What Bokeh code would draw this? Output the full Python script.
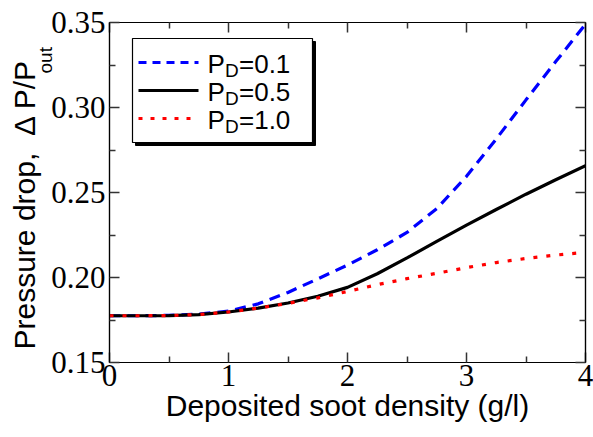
from bokeh.plotting import figure
from bokeh.models import LinearAxis, FixedTicker, Range1d, Label, Title
from bokeh.embed import file_html
from bokeh.resources import INLINE

# ---- data ----
soot_density = [0.0, 0.25, 0.5, 0.75, 1.0, 1.25, 1.5, 1.75, 2.0, 2.25, 2.5, 2.75, 3.0, 3.25, 3.5, 3.75, 4.0]
dp_pd01 = [0.1775, 0.1775, 0.1777, 0.1785, 0.1802, 0.1845, 0.1912, 0.1992, 0.2073, 0.2163, 0.2265, 0.2405, 0.2595, 0.2815, 0.3045, 0.3270, 0.3490]
dp_pd05 = [0.1775, 0.1775, 0.1776, 0.1782, 0.1797, 0.1820, 0.1850, 0.1890, 0.1942, 0.2022, 0.2115, 0.2212, 0.2308, 0.2400, 0.2490, 0.2575, 0.2657]
dp_pd10 = [0.1775, 0.1775, 0.1776, 0.1782, 0.1797, 0.1820, 0.1848, 0.1880, 0.1918, 0.1958, 0.1993, 0.2025, 0.2058, 0.2088, 0.2112, 0.2132, 0.2148]
pd_values = ["0.1", "0.5", "1.0"]

x_ticks = [0, 1, 2, 3, 4]
x_tick_labels = ["0", "1", "2", "3", "4"]
x_minor = [0.5, 1.5, 2.5, 3.5]
y_ticks = [0.15, 0.20, 0.25, 0.30, 0.35]
y_tick_labels = ["0.15", "0.20", "0.25", "0.30", "0.35"]
y_minor = [0.175, 0.225, 0.275, 0.325]

X0, X1, Y0, Y1 = 0.0, 4.0, 0.15, 0.35

# ---- layout (canvas pixels) ----
W, H = 593, 437
BL, BR, BT, BB = 109, 8, 22, 75
FW, FH = W - BL - BR, H - BT - BB


def px2x(px):
    return X0 + (px - BL) / FW * (X1 - X0)


def py2y(py):
    return Y1 - (py - BT) / FH * (Y1 - Y0)


p = figure(width=W, height=H, x_range=Range1d(X0, X1), y_range=Range1d(Y0, Y1),
           output_backend="svg", toolbar_location=None,
           min_border_left=BL, min_border_right=BR, min_border_top=BT, min_border_bottom=BB,
           background_fill_color="white", border_fill_color="white")
p.xgrid.visible = False
p.ygrid.visible = False
p.outline_line_color = "black"
p.outline_line_width = 1.2


def style_axis(ax, ticks, minor, labels, show_labels):
    ax.ticker = FixedTicker(ticks=ticks, minor_ticks=minor)
    ax.major_tick_in = 10
    ax.major_tick_out = 0
    ax.minor_tick_in = 6
    ax.minor_tick_out = 0
    ax.axis_line_color = "black"
    ax.axis_line_width = 1.2
    ax.major_tick_line_color = "#333333"
    ax.major_tick_line_width = 1.5
    ax.minor_tick_line_color = "#333333"
    ax.minor_tick_line_width = 1.5
    if show_labels:
        ax.major_label_overrides = {t: l for t, l in zip(ticks, labels)}
        ax.major_label_text_font = "Liberation Serif"
        ax.major_label_text_font_size = "31px"
        ax.major_label_text_color = "black"
    else:
        ax.major_label_text_color = None
        ax.major_label_text_font_size = "1px"
        ax.major_label_standoff = 0


xa = p.xaxis[0]
ya = p.yaxis[0]
style_axis(xa, x_ticks, x_minor, x_tick_labels, True)
style_axis(ya, y_ticks, y_minor, y_tick_labels, True)
xa.major_label_standoff = 2
ya.major_label_standoff = 4
xa.axis_label = "Deposited soot density (g/l)"
xa.axis_label_text_font = "Liberation Sans"
xa.axis_label_text_font_size = "30px"
xa.axis_label_text_font_style = "normal"
xa.axis_label_text_color = "black"
xa.axis_label_standoff = 0

top_ax = LinearAxis()
right_ax = LinearAxis()
style_axis(top_ax, x_ticks, x_minor, x_tick_labels, False)
style_axis(right_ax, y_ticks, y_minor, y_tick_labels, False)
p.add_layout(top_ax, "above")
p.add_layout(right_ax, "right")

# ---- y-axis label as two side titles (main text + subscript) ----
sub_title = Title(text="out", align="left", offset=289, vertical_align="bottom", standoff=-15,
                  text_font="Liberation Sans", text_font_size="19px", text_font_style="normal",
                  text_color="black")
main_title = Title(text="Pressure drop,\u00a0 \u0394 P/P", align="left", offset=13, vertical_align="bottom",
                   standoff=0, text_font="Liberation Sans", text_font_size="30px",
                   text_font_style="normal", text_color="black")
p.add_layout(sub_title, "left")
p.add_layout(main_title, "left")

# ---- curves ----
p.line(soot_density, dp_pd01, line_color="#0000ff", line_width=3.2, line_dash="11 7")
p.line(soot_density, dp_pd05, line_color="black", line_width=3.2)
p.line(soot_density, dp_pd10, line_color="#ff0000", line_width=3.2, line_dash="4 9")

# ---- legend (manual, to allow subscripts) ----
lg_l, lg_r, lg_t, lg_b = 132, 312, 38, 142
sh = 3
p.quad(left=[px2x(lg_l + sh)], right=[px2x(lg_r + sh)], top=[py2y(lg_t + sh)], bottom=[py2y(lg_b + sh)],
       fill_color="black", line_color="black")
p.quad(left=[px2x(lg_l)], right=[px2x(lg_r)], top=[py2y(lg_t)], bottom=[py2y(lg_b)],
       fill_color="white", line_color="black", line_width=1.2)

styles = [("#0000ff", "8 6"), ("black", None), ("#ff0000", "4 8")]
row_y = [62, 90, 118]
for (col, dash), ry, pdv in zip(styles, row_y, pd_values):
    kw = dict(line_color=col, line_width=3.2)
    if dash:
        kw["line_dash"] = dash
    p.line([px2x(138), px2x(198)], [py2y(ry), py2y(ry)], **kw)
    base = ry + 1
    p.add_layout(Label(x=207, y=base, x_units="canvas", y_units="canvas", text="P",
                       text_font="Liberation Sans", text_font_size="26px",
                       text_baseline="alphabetic", text_color="black"))
    p.add_layout(Label(x=224.5, y=base + 7, x_units="canvas", y_units="canvas", text="D",
                       text_font="Liberation Sans", text_font_size="19px",
                       text_baseline="alphabetic", text_color="black"))
    p.add_layout(Label(x=238.5, y=base, x_units="canvas", y_units="canvas", text="=" + pdv,
                       text_font="Liberation Sans", text_font_size="26px",
                       text_baseline="alphabetic", text_color="black"))

open("out.html", "w").write(file_html(p, INLINE))
